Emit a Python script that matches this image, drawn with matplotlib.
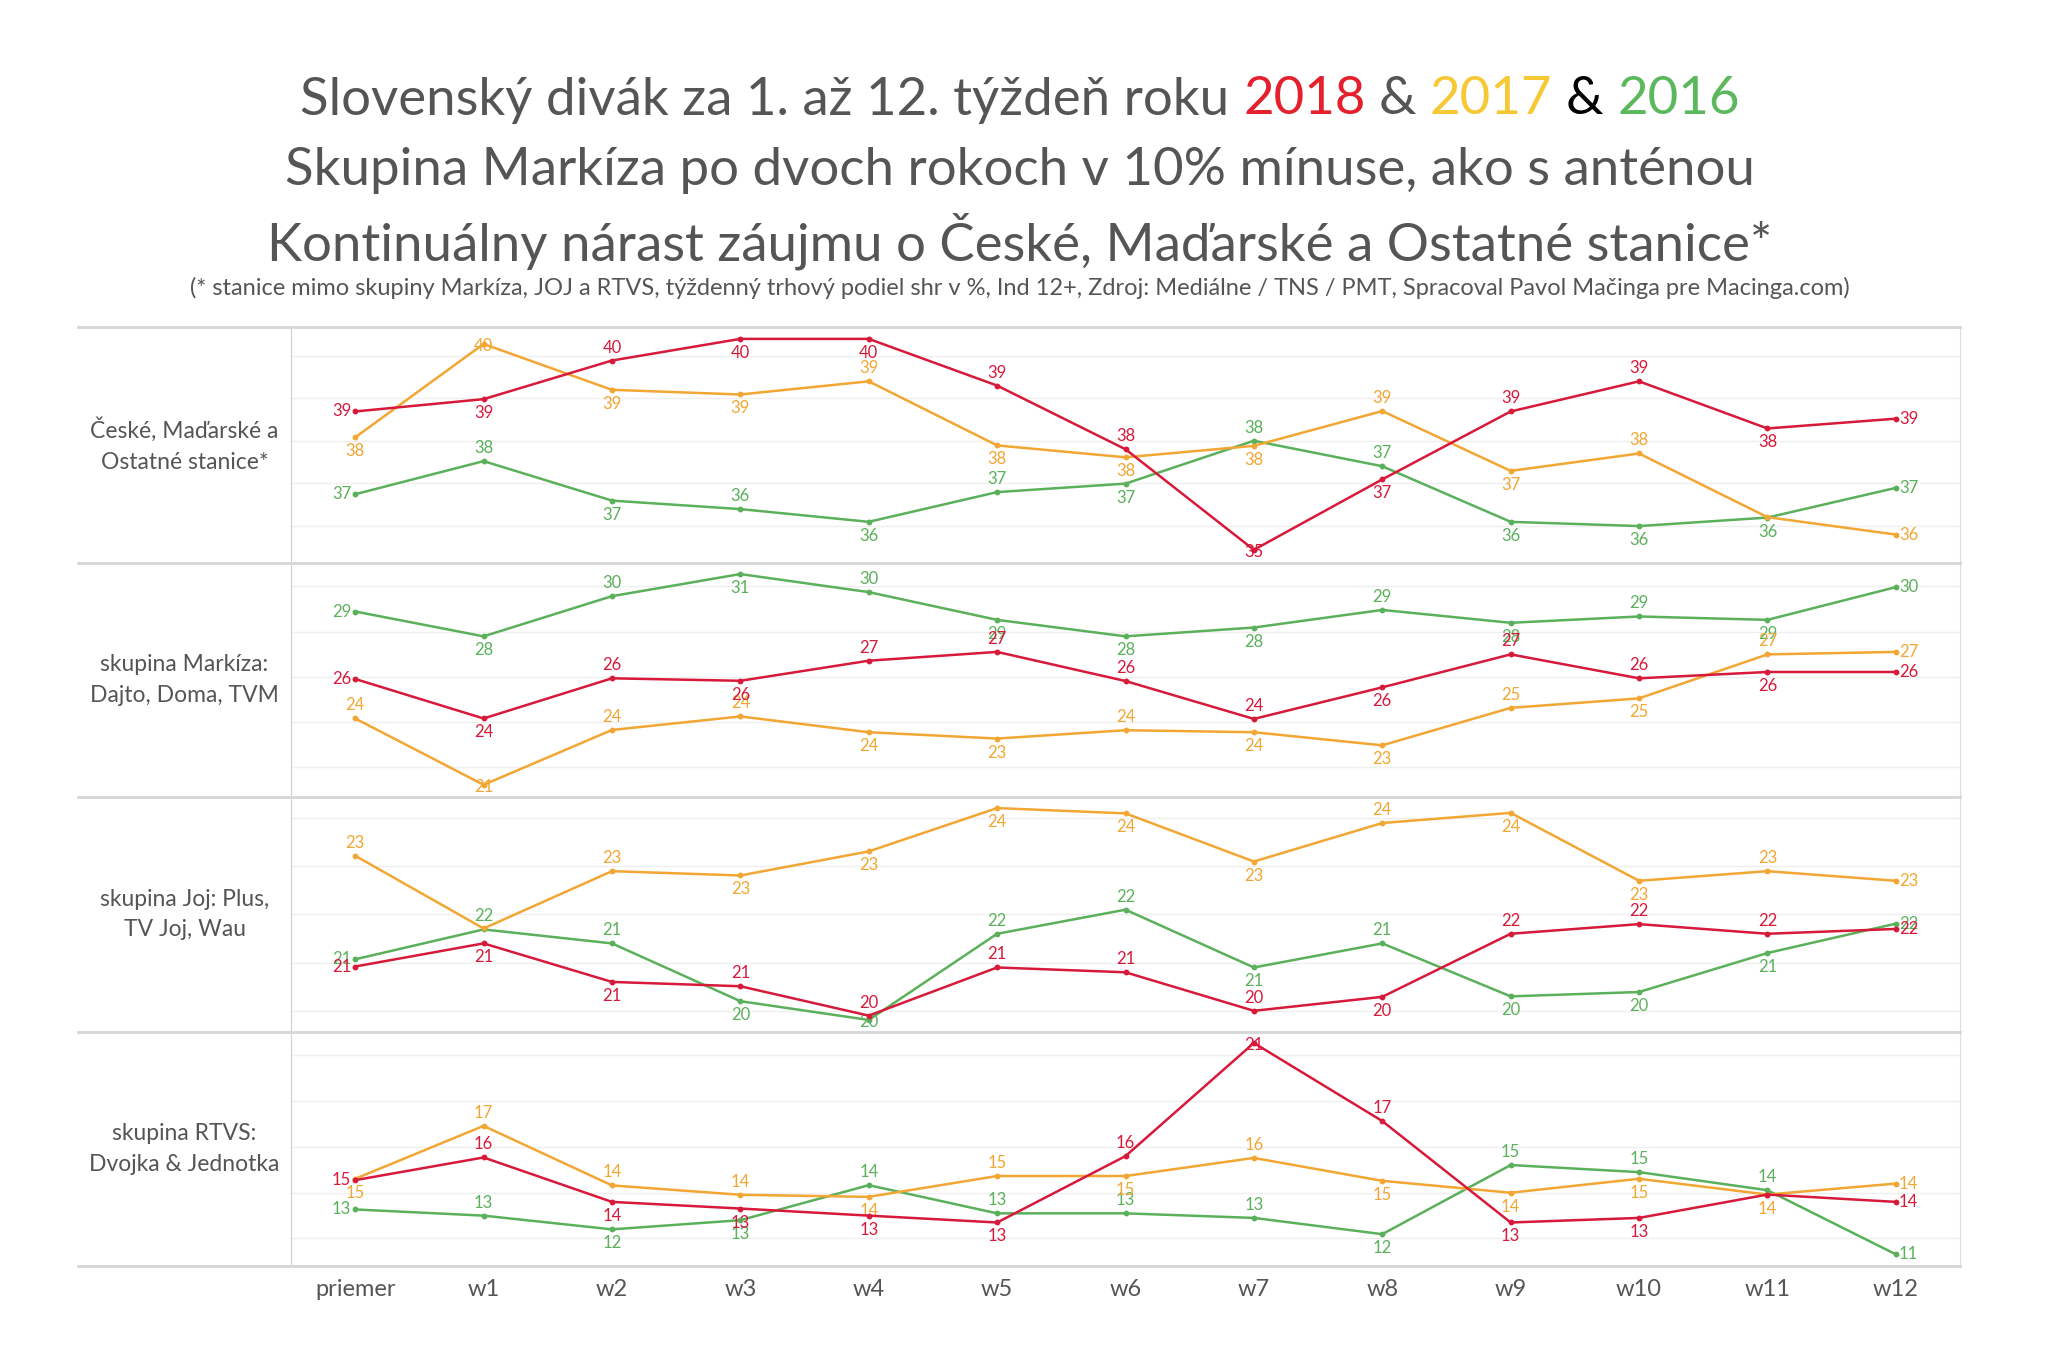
import matplotlib.pyplot as plt
from matplotlib.lines import Line2D

# ----------------------------
# Data (weekly market share, %)
# ----------------------------
weeks = ["priemer", "w1", "w2", "w3", "w4", "w5", "w6", "w7", "w8", "w9", "w10", "w11", "w12"]
row_titles = ["České, Maďarské a\nOstatné stanice*",
              "skupina Markíza:\nDajto, Doma, TVM",
              "skupina Joj: Plus,\nTV Joj, Wau",
              "skupina RTVS:\nDvojka & Jednotka"]

ceske_2018 = [38.69, 38.98, 39.89, 40.40, 40.40, 39.30, 37.80, 35.43, 37.09, 38.69, 39.40, 38.29, 38.52]
ceske_2017 = [38.08, 40.28, 39.20, 39.09, 39.40, 37.89, 37.61, 37.88, 38.70, 37.29, 37.70, 36.20, 35.79]
ceske_2016 = [36.74, 37.52, 36.59, 36.39, 36.09, 36.79, 36.99, 38.00, 37.40, 36.09, 35.99, 36.19, 36.89]

markiza_2018 = [25.90, 24.15, 25.93, 25.82, 26.71, 27.10, 25.81, 24.13, 25.53, 26.99, 25.93, 26.21, 26.21]
markiza_2017 = [24.15, 21.21, 23.64, 24.24, 23.54, 23.26, 23.63, 23.54, 22.96, 24.62, 25.04, 26.99, 27.10]
markiza_2016 = [28.89, 27.79, 29.57, 30.55, 29.75, 28.52, 27.79, 28.18, 28.96, 28.39, 28.67, 28.52, 29.97]

joj_2018 = [20.92, 21.40, 20.60, 20.51, 19.90, 20.90, 20.80, 20.00, 20.29, 21.60, 21.80, 21.60, 21.70]
joj_2017 = [23.22, 21.71, 22.90, 22.81, 23.31, 24.21, 24.10, 23.10, 23.90, 24.11, 22.70, 22.90, 22.70]
joj_2016 = [21.07, 21.69, 21.40, 20.20, 19.81, 21.60, 22.10, 20.90, 21.40, 20.30, 20.39, 21.20, 21.81]

rtvs_2018 = [14.54, 15.53, 13.59, 13.30, 12.99, 12.69, 15.59, 20.53, 17.12, 12.69, 12.89, 13.91, 13.59]
rtvs_2017 = [14.60, 16.91, 14.31, 13.90, 13.81, 14.72, 14.72, 15.51, 14.51, 13.99, 14.60, 13.91, 14.39]
rtvs_2016 = [13.26, 12.99, 12.39, 12.79, 14.32, 13.09, 13.09, 12.89, 12.18, 15.20, 14.89, 14.10, 11.30]

# ----------------------------
# Style
# ----------------------------
W, H = 2048, 1365
FONT = ["Lato", "DejaVu Sans"]
GREY = "#555555"
C2018, C2017, C2016 = "#d7193a", "#f2a634", "#5bb05b"

# label placement per point: L left, R right, a above, b below, c on point, x hidden
label_pos = [
    {"2018": "LbabbaacbaabR", "2017": "bcbbabbbabaxR", "2016": "LabababaabbbR"},
    {"2018": "LbabaaaabaabR", "2017": "acaabbabbabaR", "2016": "LbababbbababR"},
    {"2018": "LbbaaaaabaaaR", "2017": "axabbbbbabbaR", "2016": "LaabcaababbbR"},
    {"2018": "LabbbbacabbxR", "2017": "baaabababbbbR", "2016": "LabbaaaabaaaR"},
]
panels = [
    (ceske_2018, ceske_2017, ceske_2016, (35.12, 40.68), [36, 37, 38, 39, 40]),
    (markiza_2018, markiza_2017, markiza_2016, (20.67, 31.04), [22, 24, 26, 28, 30]),
    (joj_2018, joj_2017, joj_2016, (19.56, 24.44), [20, 21, 22, 23, 24]),
    (rtvs_2018, rtvs_2017, rtvs_2016, (10.79, 21.01), [12, 14, 16, 18, 20]),
]
row_edges = [327, 563, 797, 1032, 1266]
x_left, x_div, x_right = 78, 291, 1960

plt.rcParams["font.family"] = FONT
fig = plt.figure(figsize=(W / 100, H / 100), dpi=100)
fig.patch.set_facecolor("white")


def fx(px):
    return px / W


def fy(py):
    return 1 - py / H


def put_label(ax, x, y, pos, color):
    if pos == "x":
        return
    txt = f"{y:.0f}"
    off = {"a": (0, 13, "center"), "b": (0, -14, "center"), "c": (0, -2, "center"),
           "L": (-4, 0, "right"), "R": (3, 0, "left")}[pos]
    ax.annotate(txt, (x, y), xytext=(off[0], off[1]), textcoords="offset pixels",
                ha=off[2], va="center", fontsize=12, color=color, annotation_clip=False)


xs = list(range(len(weeks)))
for i, (s18, s17, s16, ylim, grid) in enumerate(panels):
    top, bot = row_edges[i], row_edges[i + 1]
    ax = fig.add_axes([fx(x_div), fy(bot), fx(x_right - x_div), (bot - top) / H])
    ax.set_xlim(-0.5, 12.5)
    ax.set_ylim(*ylim)
    for g in grid:
        ax.axhline(g, color="#efefef", lw=1, zorder=0)
    for name in ["top", "bottom"]:
        ax.spines[name].set_visible(False)
    ax.spines["left"].set_color("#d0d0d0")
    ax.spines["right"].set_color("#dcdcdc")
    ax.set_yticks([])
    ax.set_xticks(xs)
    if i == len(panels) - 1:
        ax.set_xticklabels(weeks, fontsize=17, color=GREY)
        ax.tick_params(axis="x", length=0, pad=9)
    else:
        ax.set_xticklabels([])
        ax.tick_params(axis="x", length=0)

    for vals, col, key in [(s16, C2016, "2016"), (s17, C2017, "2017"), (s18, C2018, "2018")]:
        ax.plot(xs, vals, color=col, lw=1.8, marker="o", markersize=3.2, zorder=3)
        for x, v, p in zip(xs, vals, label_pos[i][key]):
            put_label(ax, x, v, p, col)

    fig.text(fx((x_left + x_div) / 2), fy((top + bot) / 2), row_titles[i], ha="center",
             va="center", fontsize=16.5, color=GREY, linespacing=1.55)

# table separators
for y in row_edges:
    fig.add_artist(Line2D([fx(x_left), fx(x_right)], [fy(y), fy(y)], color="#d6d6d6", lw=2))

# ----------------------------
# Titles
# ----------------------------
renderer = fig.canvas.get_renderer()
TSIZE = 38


def text_width(s, size):
    t = fig.text(0, 0, s, fontsize=size)
    w = t.get_window_extent(renderer).width
    t.remove()
    return w


def colored_line(cy, parts, size, cx=1020):
    space = text_width("a a", size) - text_width("aa", size)
    widths = [text_width(s, size) for s, _ in parts]
    total = sum(widths) + space * (len(parts) - 1)
    x = cx - total / 2
    for (s, c), w in zip(parts, widths):
        fig.text(fx(x), fy(cy), s, fontsize=size, color=c, ha="left", va="center")
        x += w + space


colored_line(100, [("Slovenský divák za 1. až 12. týždeň roku", GREY), ("2018", "#e3202c"),
                   ("&", GREY), ("2017", "#f6c834"), ("&", "#000000"), ("2016", "#5cb85c")], TSIZE)
fig.text(fx(1020), fy(171), "Skupina Markíza po dvoch rokoch v 10% mínuse, ako s anténou",
         fontsize=TSIZE, color=GREY, ha="center", va="center")
fig.text(fx(1020), fy(241), "Kontinuálny nárast záujmu o České, Maďarské a Ostatné stanice*",
         fontsize=TSIZE, color=GREY, ha="center", va="center")
fig.text(fx(1020), fy(288), "(* stanice mimo skupiny Markíza, JOJ a RTVS, týždenný trhový podiel shr v %, "
         "Ind 12+, Zdroj: Mediálne / TNS / PMT, Spracoval Pavol Mačinga pre Macinga.com)",
         fontsize=17, color=GREY, ha="center", va="center")

fig.savefig("out.png", dpi=100, facecolor="white")
